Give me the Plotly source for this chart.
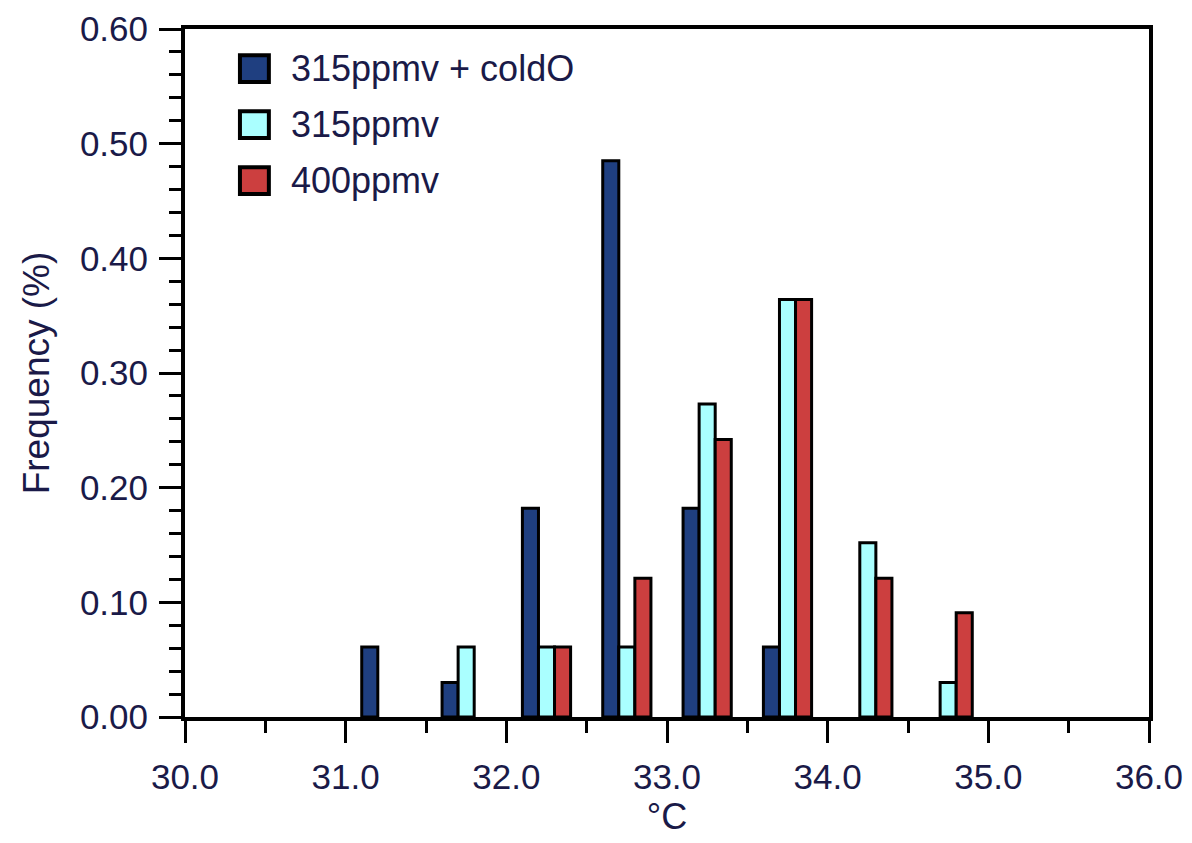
import plotly.graph_objects as go

bin_centers = [31.25, 31.75, 32.25, 32.75, 33.25, 33.75, 34.25, 34.75]
coldO_315 = [0.061, 0.030, 0.182, 0.485, 0.182, 0.061, 0.0, 0.0]
ppmv_315 = [0.0, 0.061, 0.061, 0.061, 0.273, 0.364, 0.152, 0.030]
ppmv_400 = [0.0, 0.0, 0.061, 0.121, 0.242, 0.364, 0.121, 0.091]

series_names = ["315ppmv + coldO", "315ppmv", "400ppmv"]
series_colors = ["#1f3f80", "#aaffff", "#cc3f3f"]
series_values = [coldO_315, ppmv_315, ppmv_400]

TXT = "#1a1a48"
FONT = "Liberation Sans, Arial, sans-serif"

fig = go.Figure()
for i, (name, color, vals) in enumerate(zip(series_names, series_colors, series_values)):
    fig.add_trace(go.Bar(
        x=bin_centers, y=[v if v > 0 else None for v in vals], name=name,
        marker=dict(color=color, line=dict(color="black", width=3)),
        showlegend=False,
    ))

# legend drawn as boxed squares + labels (layout decoration)
shapes = []
annotations = []
for i, (name, color) in enumerate(zip(series_names, series_colors)):
    top = 0.962 - i * 0.0814
    shapes.append(dict(
        type="rect", xref="paper", yref="paper",
        x0=0.057, x1=0.087, y0=top - 0.039, y1=top,
        fillcolor=color, line=dict(color="black", width=4),
    ))
    annotations.append(dict(
        xref="paper", yref="paper", x=0.108, y=top - 0.0195,
        xanchor="left", yanchor="middle", text=name, showarrow=False,
        font=dict(family=FONT, size=36, color=TXT),
    ))

axis_common = dict(
    showline=True, linecolor="black", linewidth=4, mirror=True,
    ticks="outside", ticklen=22, tickwidth=3, tickcolor="black",
    showgrid=False, zeroline=False, automargin=False,
    tickfont=dict(family=FONT, size=35, color=TXT),
)

fig.update_layout(
    width=1184, height=835,
    margin=dict(l=177, r=43, t=21, b=126),
    paper_bgcolor="white", plot_bgcolor="white",
    barmode="group", bargap=0.4, bargroupgap=0.0,
    font=dict(family=FONT, size=36, color=TXT),
    showlegend=False,
    shapes=shapes,
    annotations=annotations,
    xaxis=dict(
        range=[30, 36], dtick=1, tick0=30, tickformat=".1f",
        minor=dict(dtick=0.5, ticks="outside", ticklen=12, tickwidth=3, tickcolor="black"),
        title=dict(text="°C", font=dict(family=FONT, size=36, color=TXT), standoff=8),
        ticklabelstandoff=4,
        **axis_common,
    ),
    yaxis=dict(
        range=[0, 0.6], dtick=0.1, tick0=0, tickformat=".2f",
        minor=dict(dtick=0.02, ticks="outside", ticklen=12, tickwidth=3, tickcolor="black"),
        title=dict(text="Frequency (%)", font=dict(family=FONT, size=37, color=TXT), standoff=20),
        ticklabelstandoff=4,
        **axis_common,
    ),
)

fig.write_html("out.html")
